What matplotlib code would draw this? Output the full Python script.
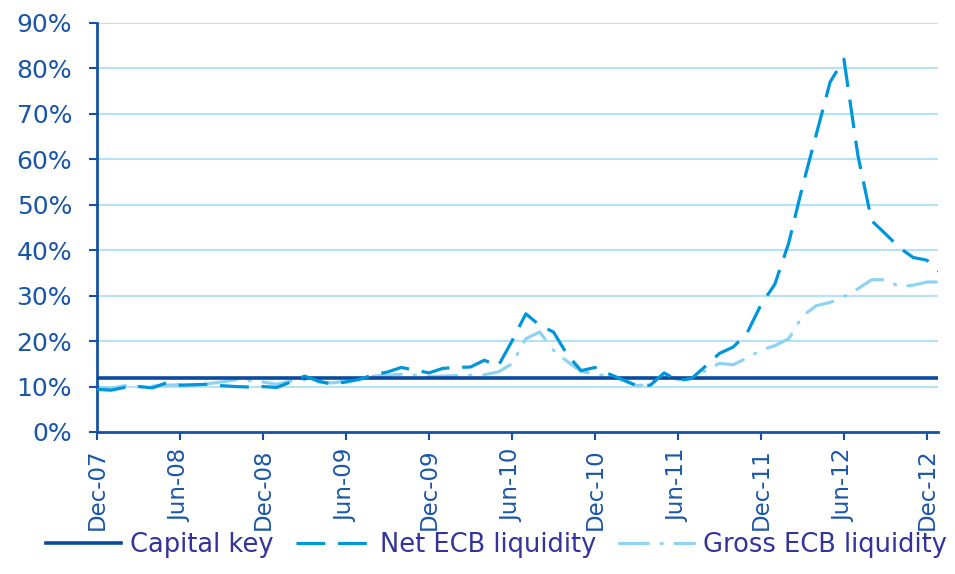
import numpy as np
import matplotlib
matplotlib.use("Agg")
import matplotlib.pyplot as plt

# monthly points, Dec-07 .. Jan-13 (share of total, %)
capital_key = 11.9

net_ecb = [9.4, 9.2, 9.8, 10.0, 9.7, 10.8, 10.3, 10.4, 10.5, 10.2,
           10.0, 9.9, 10.0, 9.8, 11.0, 12.3, 11.2, 10.5, 11.0, 11.6,
           12.6, 13.2, 14.2, 13.6, 13.0, 14.0, 14.2, 14.3, 15.8, 14.5,
           20.0, 26.0, 23.5, 22.0, 17.0, 13.5, 14.2, 12.8, 11.5, 10.2,
           10.3, 13.0, 11.3, 11.8, 14.5, 17.3, 18.7, 21.8, 28.0, 32.5,
           41.5, 54.0, 65.5, 77.0, 82.0, 61.0, 46.5, 43.6, 40.6, 38.4,
           37.8, 35.0]

gross_ecb = [9.8, 9.6, 10.2, 10.0, 10.1, 10.3, 10.4, 10.3, 10.6, 11.0,
             11.5, 11.3, 11.0, 10.5, 11.2, 11.5, 11.0, 10.8, 11.2, 11.8,
             12.3, 12.5, 12.7, 12.5, 12.2, 12.3, 12.4, 12.5, 12.6, 13.2,
             15.0, 20.5, 22.0, 18.0, 15.5, 13.3, 12.8, 12.2, 11.5, 10.2,
             10.5, 12.8, 11.5, 11.8, 13.5, 15.1, 14.8, 16.3, 18.0, 19.0,
             20.5, 25.5, 27.8, 28.5, 29.8, 31.5, 33.5, 33.5, 32.0, 32.3,
             33.0, 33.0]

tick_labels = ["Dec-07", "Jun-08", "Dec-08", "Jun-09", "Dec-09", "Jun-10",
               "Dec-10", "Jun-11", "Dec-11", "Jun-12", "Dec-12"]

months = np.arange(len(net_ecb))

axis_col = "#1552a5"
text_col = "#33339a"

plt.rcParams["font.family"] = ["DejaVu Sans"]

fig = plt.figure(figsize=(9.55, 5.74), dpi=100)
ax = fig.add_axes([0.1016, 0.2474, 0.8806, 0.7126])

ax.plot(months, [capital_key] * len(months), color="#0b4a9e", lw=2.6,
        label="Capital key", zorder=3)
ax.plot(months, net_ecb, color="#0096db", lw=2.3, dashes=(9, 4),
        label="Net ECB liquidity", zorder=4)
ax.plot(months, gross_ecb, color="#8fd3f3", lw=2.3,
        dashes=(9, 4, 0.4, 4), dash_capstyle="round",
        label="Gross ECB liquidity", zorder=2)

ax.set_xlim(0, 60.8)
ax.set_ylim(0, 90)
ax.set_yticks(range(0, 91, 10))
ax.set_yticklabels([f"{v}%" for v in range(0, 91, 10)])
ax.set_xticks(range(0, 61, 6))
ax.set_xticklabels(tick_labels, rotation=90)

for v in range(10, 91, 10):
    ax.axhline(v, color="#b5e2f5", lw=1.5, zorder=1)

for s in ["top", "right"]:
    ax.spines[s].set_visible(False)
for s in ["left", "bottom"]:
    ax.spines[s].set_color(axis_col)
    ax.spines[s].set_linewidth(2)

ax.tick_params(axis="y", colors=axis_col, length=6, width=1.5,
               labelsize=18, pad=12, labelcolor="#1a56a8")
ax.tick_params(axis="x", colors=axis_col, length=6, width=1.5,
               labelsize=16.5, pad=6, labelcolor="#1a56a8")

leg = fig.legend(loc="lower center", bbox_to_anchor=(0.52, -0.012), ncol=3,
                 frameon=False, fontsize=18.5, handlelength=2.9,
                 handletextpad=0.35, columnspacing=0.9)
for t in leg.get_texts():
    t.set_color(text_col)

fig.savefig("out.png", dpi=100)
